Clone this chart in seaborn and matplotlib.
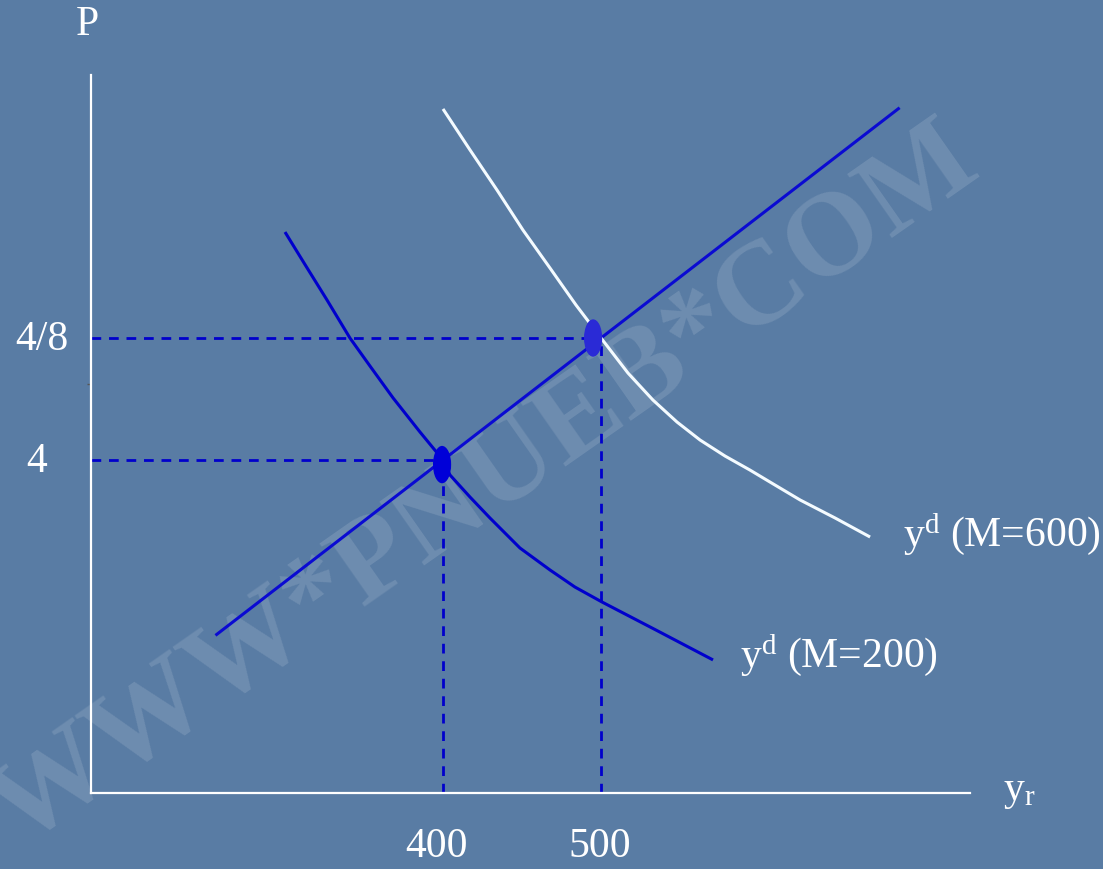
import matplotlib
matplotlib.use("Agg")
import matplotlib.pyplot as plt
from matplotlib.patches import Ellipse
import seaborn as sns

# ---------------- data ----------------
# aggregate supply (straight line)
as_y = [256, 400, 500, 689]
as_p = [2.85, 4.0, 4.8, 6.31]

# demand, M = 200
d200_y = [300.0, 312.7, 326.6, 341.1, 353.8, 368.4, 385.4, 400.0, 404.4, 417.1,
          429.7, 448.7, 467.7, 483.5, 500.6, 534.8, 570.9]
d200_p = [5.495, 5.281, 5.049, 4.80, 4.616, 4.407, 4.184, 4.0, 3.902, 3.757,
          3.620, 3.423, 3.279, 3.167, 3.069, 2.885, 2.689]

# demand, M = 600
d600_y = [400.0, 417.1, 434.2, 450.6, 467.7, 484.2, 500.0, 517.1, 532.9, 548.1,
          562.7, 578.5, 594.3, 610.1, 626.0, 648.1, 670.3]
d600_p = [6.302, 6.033, 5.770, 5.508, 5.259, 5.016, 4.80, 4.570, 4.393, 4.249,
          4.131, 4.026, 3.934, 3.836, 3.738, 3.620, 3.495]

# equilibria
eq_y = [400, 500]
eq_p = [4.0, 4.8]
eq_ylabels = ["400", "500"]
eq_plabels = ["4", "4/8"]

# ---------------- style ----------------
sns.set_style("white")
plt.rcParams['font.family'] = ['Liberation Serif', 'DejaVu Serif']
plt.rcParams['mathtext.fontset'] = 'custom'
plt.rcParams['mathtext.rm'] = 'Liberation Serif'
plt.rcParams['mathtext.it'] = 'Liberation Serif:italic'

BG = '#597ca4'
BLUE = '#0000cc'

fig = plt.figure(figsize=(11.03, 8.69), dpi=100)
fig.patch.set_facecolor(BG)
ax = fig.add_axes([91/1103, 76/869, 879/1103, 718/869])
ax.set_facecolor('none')

x0, x1 = 177.22, 733.54
p0, p1 = 1.8164, 6.5246
ax.set_xlim(x0, x1)
ax.set_ylim(p0, p1)

for s in ['top', 'right']:
    ax.spines[s].set_visible(False)
for s in ['left', 'bottom']:
    ax.spines[s].set_color('white')
    ax.spines[s].set_linewidth(1.6)
ax.set_xticks([])
ax.set_yticks([4.5])
ax.set_yticklabels([''])
ax.tick_params(axis='y', direction='out', length=3, width=1, color='#555555', left=True)

# watermark
ax.text(426.6, 3.823, "WWW*PNUEB*COM", rotation=35, ha='center', va='center',
        fontsize=86, fontweight='bold', color='white', alpha=0.13,
        rotation_mode='anchor', clip_on=False, zorder=1)

# dashed guide lines
ax.hlines(eq_p, x0, eq_y, colors=BLUE, linestyles=(0, (3.5, 2.8)), linewidth=2, zorder=2, clip_on=False)
ax.vlines(eq_y, p0, eq_p, colors=BLUE, linestyles=(0, (3.5, 2.8)), linewidth=2, zorder=2, clip_on=False)

# curves
kw = dict(sort=False, estimator=None, zorder=3, solid_joinstyle='round', solid_capstyle='butt')
sns.lineplot(x=as_y, y=as_p, ax=ax, color='#0a0ad2', linewidth=2.2, **kw)
sns.lineplot(x=d200_y, y=d200_p, ax=ax, color=BLUE, linewidth=2.2, **kw)
sns.lineplot(x=d600_y, y=d600_p, ax=ax, color='#f4fbff', linewidth=2.2, **kw)

# equilibrium dots
dot_cols = ['#0000d8', '#2a2ad6']
dot_dx = [-0.6, -5.0]
dot_dp = [-0.03, 0.0]
for xv, pv, c, dx, dp in zip(eq_y, eq_p, dot_cols, dot_dx, dot_dp):
    ax.add_patch(Ellipse((xv + dx, pv + dp), width=11.5, height=0.245,
                         facecolor=c, edgecolor='none', zorder=4))

# labels
fs = 30
ax.text(174.7, 6.852, "P", ha='center', va='center', fontsize=fs, color='white', clip_on=False)
ax.text(146.2, 4.787, eq_plabels[1], ha='center', va='center', fontsize=fs, color='white', clip_on=False)
ax.text(143.0, 3.987, eq_plabels[0], ha='center', va='center', fontsize=fs, color='white', clip_on=False)
ax.text(396.2, 1.462, eq_ylabels[0], ha='center', va='center', fontsize=fs, color='white', clip_on=False)
ax.text(499.4, 1.462, eq_ylabels[1], ha='center', va='center', fontsize=fs, color='white', clip_on=False)
ax.text(754.4, 1.770, r"$\mathrm{y_r}$", ha='left', va='baseline', fontsize=fs, color='white', clip_on=False)
ax.text(691.1, 3.436, r"$\mathrm{y^d}$ (M=600)", ha='left', va='baseline', fontsize=fs, color='white', clip_on=False)
ax.text(588.0, 2.643, r"$\mathrm{y^d}$ (M=200)", ha='left', va='baseline', fontsize=fs, color='white', clip_on=False)

fig.savefig("out.png", dpi=100, facecolor=BG)
